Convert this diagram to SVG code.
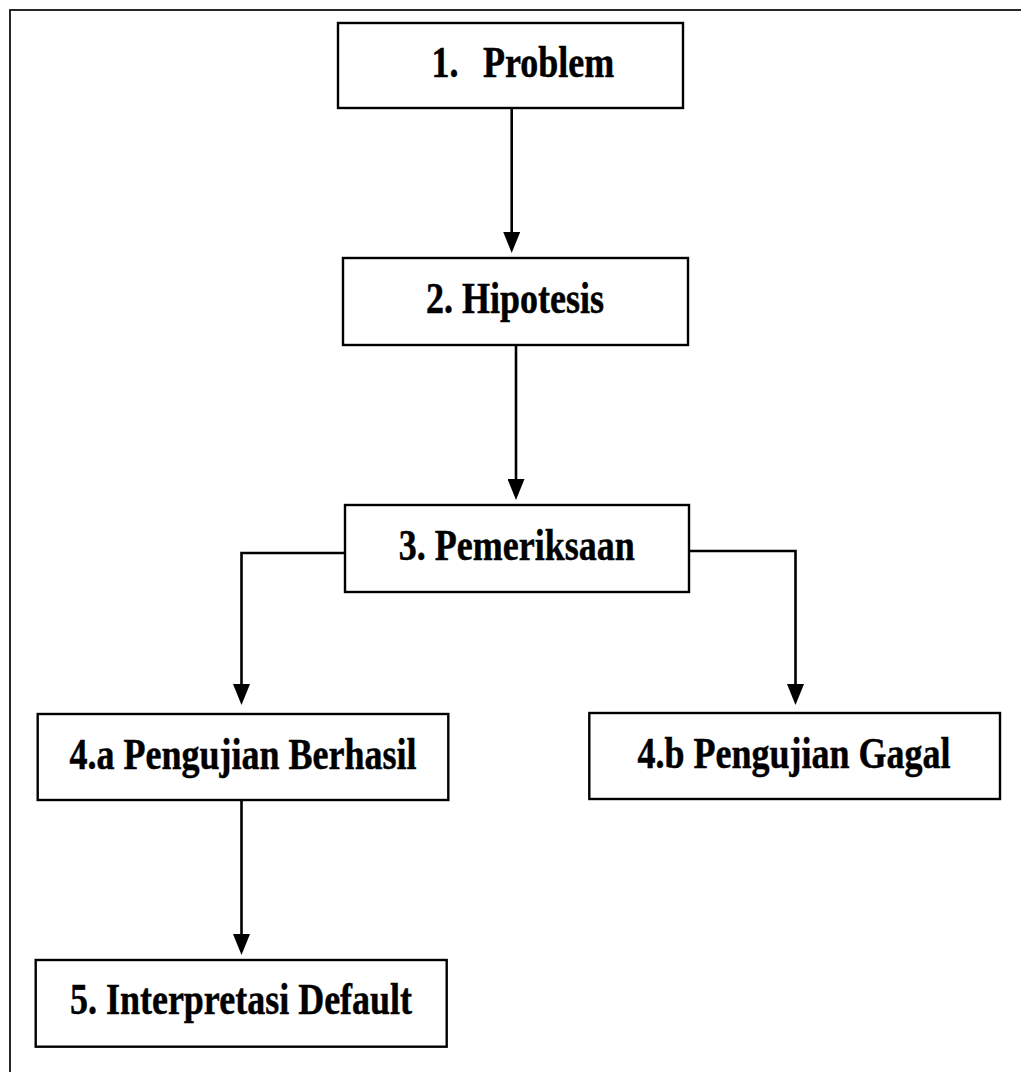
<svg xmlns="http://www.w3.org/2000/svg" width="1021" height="1072" viewBox="0 0 1021 1072">
  <style>
    .box { fill: #ffffff; stroke: #000000; stroke-width: 2.4; }
    .lbl { font-family: "Liberation Serif", "Times New Roman", serif; font-weight: bold; font-size: 36px; fill: #000000; stroke: #000000; stroke-width: 0.4; text-anchor: middle; }
    .conn { fill: none; stroke: #000000; stroke-width: 2.6; }
    .frame { fill: none; stroke: #111111; stroke-width: 1.8; }
  </style>
  <defs>
    <marker id="arrow" viewBox="0 0 21 17" refX="13" refY="8.5" markerWidth="21" markerHeight="17" markerUnits="userSpaceOnUse" orient="auto">
      <path d="M0,0 L21,8.5 L0,17 z" fill="#000000"/>
    </marker>
  </defs>
  <rect width="1021" height="1072" fill="#ffffff"/>
  <rect class="frame" x="10" y="10" width="1030" height="1090"/>

  <g id="connectors">
    <path class="conn" d="M511.7,108 L511.7,245" marker-end="url(#arrow)"/>
    <path class="conn" d="M516,345 L516,492" marker-end="url(#arrow)"/>
    <path class="conn" d="M345,553 L241.5,553 L241.5,697" marker-end="url(#arrow)"/>
    <path class="conn" d="M689,551 L795.5,551 L795.5,697" marker-end="url(#arrow)"/>
    <path class="conn" d="M241.5,800 L241.5,947" marker-end="url(#arrow)"/>
  </g>

  <g id="node1">
    <rect class="box" x="338" y="23" width="345" height="85"/>
    <text class="lbl" transform="translate(0,77) scale(1,1.22)" style="text-anchor:start"><tspan x="431.5" y="0">1.</tspan><tspan x="483" y="0">Problem</tspan></text>
  </g>
  <g id="node2">
    <rect class="box" x="343" y="258" width="345" height="87"/>
    <text class="lbl" transform="translate(515,313) scale(1,1.22)" x="0" y="0">2. Hipotesis</text>
  </g>
  <g id="node3">
    <rect class="box" x="345" y="505" width="344" height="87"/>
    <text class="lbl" transform="translate(516.7,560) scale(1,1.22)" x="0" y="0">3. Pemeriksaan</text>
  </g>
  <g id="node4a">
    <rect class="box" x="37.7" y="714" width="410.6" height="86"/>
    <text class="lbl" transform="translate(243,769) scale(1,1.22)" x="0" y="0">4.a Pengujian Berhasil</text>
  </g>
  <g id="node4b">
    <rect class="box" x="589.3" y="713" width="410.7" height="86"/>
    <text class="lbl" transform="translate(794,768) scale(1,1.22)" x="0" y="0">4.b Pengujian Gagal</text>
  </g>
  <g id="node5">
    <rect class="box" x="35.7" y="960" width="411" height="86.7"/>
    <text class="lbl" transform="translate(241,1013.5) scale(1,1.22)" x="0" y="0">5. Interpretasi Default</text>
  </g>
</svg>
